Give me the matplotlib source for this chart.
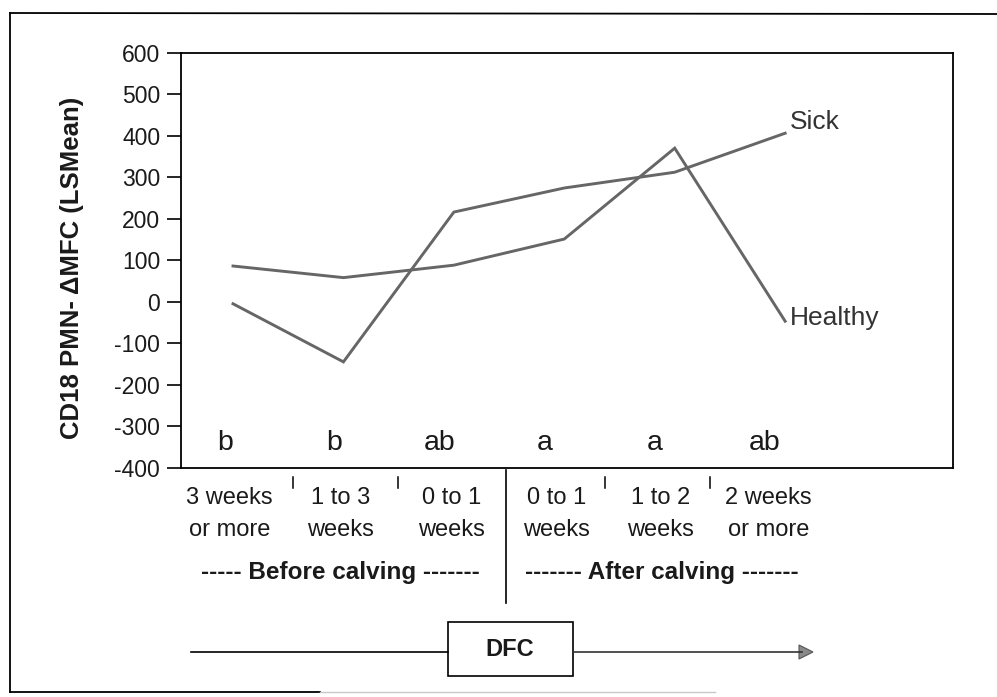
import matplotlib.pyplot as plt
from matplotlib.patches import Rectangle, Polygon
from matplotlib.transforms import blended_transform_factory

plt.rcParams['font.family'] = ['Liberation Sans', 'DejaVu Sans']

# CD18 PMN delta-MFC least-squares means by period relative to calving
periods = ['3 weeks\nor more', '1 to 3\nweeks', '0 to 1\nweeks',
           '0 to 1\nweeks', '1 to 2\nweeks', '2 weeks\nor more']
sick = [-5, -145, 216, 274, 312, 406]
healthy = [86, 58, 88, 151, 370, -47]
letters = ['b', 'b', 'ab', 'a', 'a', 'ab']
y_ticks = list(range(-400, 601, 100))
phases = ['----- Before calving -------', '------- After calving -------']

W, H = 997, 697
LINE_COLOR = '#666666'
TEXT_COLOR = '#1a1a1a'

# label placement along the category axis (in category units)
label_pos = [-0.03, 0.97, 1.98, 2.93, 3.87, 4.85]
letter_pos = [-0.07, 0.92, 1.87, 2.82, 3.82, 4.81]
sep_pos = [0.54, 1.49, 2.47, 3.37, 4.32]

fig = plt.figure(figsize=(W / 100, H / 100), dpi=100)

# page layer in pixel units: outer frame, timeline arrow, DFC box
page = fig.add_axes([0, 0, 1, 1])
page.set_xlim(0, W)
page.set_ylim(H, 0)
page.axis('off')

page.plot([10, 10], [13, 692], color='k', lw=1.3)
page.plot([10, W], [13, 14], color='k', lw=1.3)
page.plot([10, 320], [692, 692], color='k', lw=1.3)
page.plot([320, 715], [692, 692], color='#c8c8c8', lw=1.0)

page.plot([191, 448], [652, 652], color='k', lw=1.2)
page.plot([573, 802], [652, 652], color='#333333', lw=1.2)
page.add_patch(Polygon([(799, 645), (813, 652), (799, 659)], closed=True,
                       fc='#8a8a8a', ec='#555555', lw=0.8))
page.add_patch(Rectangle((448, 622), 125, 54, fc='white', ec='k', lw=1.2))
page.text(510, 650, 'DFC', ha='center', va='center', fontsize=17,
          fontweight='bold', color=TEXT_COLOR)

# main chart
bottom_px, top_px = 467.7, 52.7
left_px, right_px = 181, 953
ax = fig.add_axes([left_px / W, 1 - bottom_px / H,
                   (right_px - left_px) / W, (bottom_px - top_px) / H])
ax.patch.set_alpha(0)

x = list(range(len(periods)))
ax.plot(x, sick, color=LINE_COLOR, lw=2.1, solid_joinstyle='miter')
ax.plot(x, healthy, color=LINE_COLOR, lw=2.1, solid_joinstyle='miter')

ax.set_xlim(-0.471, 6.52)
ax.set_ylim(-400, 600)
ax.set_yticks(y_ticks)
ax.set_yticklabels([str(v) for v in y_ticks], fontsize=16.5, color=TEXT_COLOR)
ax.set_xticks([])
ax.tick_params(axis='y', direction='out', length=10, width=1.2, pad=5)
for sp in ax.spines.values():
    sp.set_linewidth(1.3)
    sp.set_color('k')

ax.text(5.04, 433, 'Sick', ha='left', va='center', fontsize=19, color='#333333')
ax.text(5.04, -39, 'Healthy', ha='left', va='center', fontsize=19, color='#333333')

# significance letters inside the plot
for xi, letter in zip(letter_pos, letters):
    ax.text(xi, -340, letter, ha='center', va='center', fontsize=20.5,
            color=TEXT_COLOR)

# category labels, separators and phase captions below the axis
trans = blended_transform_factory(ax.transData, page.transData)
for xi, name in zip(label_pos, periods):
    ax.text(xi, 514, name, transform=trans, ha='center', va='center',
            fontsize=17, color=TEXT_COLOR, linespacing=1.55)

for i, m in enumerate(sep_pos):
    if i == 2:
        ax.plot([m, m], [470, 603], transform=trans, color='k', lw=1.2,
                clip_on=False)
    else:
        ax.plot([m, m], [477, 488], transform=trans, color='k', lw=1.1,
                clip_on=False)

for k, label in enumerate(phases):
    cx = sum(label_pos[3 * k:3 * k + 3]) / 3
    ax.text(cx, 572, label, transform=trans, ha='center', va='center',
            fontsize=17.5, fontweight='bold', color=TEXT_COLOR)

fig.text(72 / W, 1 - 268 / H, 'CD18 PMN- \u0394MFC (LSMean)', rotation=90,
         ha='center', va='center', fontsize=18.5, fontweight='bold',
         color=TEXT_COLOR)

fig.savefig('out.png', dpi=100)
